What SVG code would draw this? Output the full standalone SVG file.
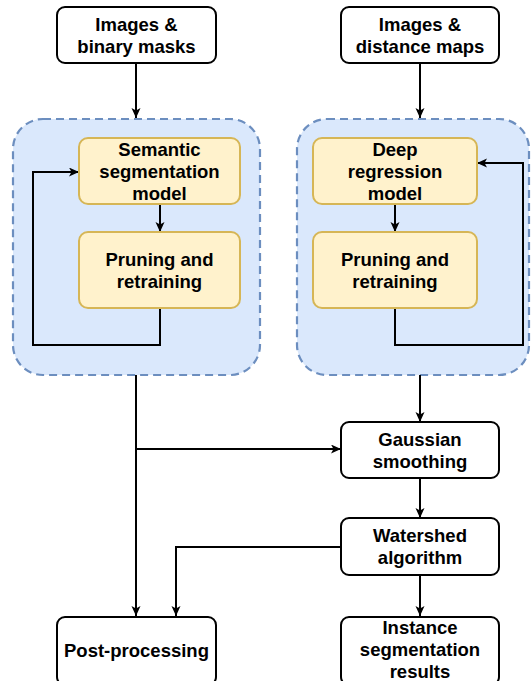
<svg xmlns="http://www.w3.org/2000/svg" width="531" height="681" viewBox="0 0 531 681">
  <defs>
    <marker id="arrow" markerUnits="userSpaceOnUse" markerWidth="12" markerHeight="10" refX="10" refY="4.5" orient="auto">
      <path d="M0,0 L10,4.5 L0,9 L2.5,4.5 Z" fill="#000"/>
    </marker>
  </defs>
  <style>
    .box { fill: #ffffff; stroke: #000; stroke-width: 2; }
    .group { fill: #dae8fc; stroke: #6c8ebf; stroke-width: 2.2; stroke-dasharray: 8 5; }
    .stage { fill: #fff2cc; stroke: #d6b656; stroke-width: 2; }
    .edge { fill: none; stroke: #000; stroke-width: 2; }
    text { font-family: "Liberation Sans", Arial, sans-serif; font-weight: bold; font-size: 18.5px; fill: #000; text-anchor: middle; }
  </style>

  <!-- dashed groups -->
  <g id="group-semantic">
    <rect class="group" x="13" y="119" width="247" height="256" rx="30"/>
  </g>
  <g id="group-regression">
    <rect class="group" x="297" y="119" width="232" height="256" rx="30"/>
  </g>

  <!-- connectors -->
  <g id="connectors">
    <path class="edge" d="M136,63 V118" marker-end="url(#arrow)"/>
    <path class="edge" d="M160,204 V232" marker-end="url(#arrow)"/>
    <path class="edge" d="M160,308 V345 H33 V172 H79" marker-end="url(#arrow)"/>
    <path class="edge" d="M420,63 V118" marker-end="url(#arrow)"/>
    <path class="edge" d="M395,204 V232" marker-end="url(#arrow)"/>
    <path class="edge" d="M395,308 V345 H523 V163 H477" marker-end="url(#arrow)"/>
    <path class="edge" d="M136,375 V616" marker-end="url(#arrow)"/>
    <path class="edge" d="M136,449 H341" marker-end="url(#arrow)"/>
    <path class="edge" d="M420,375 V422" marker-end="url(#arrow)"/>
    <path class="edge" d="M420,478 V518" marker-end="url(#arrow)"/>
    <path class="edge" d="M341,547 H176 V616" marker-end="url(#arrow)"/>
    <path class="edge" d="M420,575 V616" marker-end="url(#arrow)"/>
  </g>

  <g id="images-binary">
    <rect class="box" x="57" y="7" width="159" height="56" rx="8"/>
    <text x="136.5" y="30.5">Images &amp;</text>
    <text x="136.5" y="52.5">binary masks</text>
  </g>
  <g id="images-distance">
    <rect class="box" x="341" y="7" width="158" height="56" rx="8"/>
    <text x="420" y="30.5">Images &amp;</text>
    <text x="420" y="52.5">distance maps</text>
  </g>

  <g id="semantic-model">
    <rect class="stage" x="79" y="138" width="161" height="66" rx="9"/>
    <text x="159.5" y="155.5">Semantic</text>
    <text x="159.5" y="177.5">segmentation</text>
    <text x="159.5" y="199.5">model</text>
  </g>
  <g id="pruning-left">
    <rect class="stage" x="79" y="232" width="161" height="76" rx="9"/>
    <text x="159.5" y="266">Pruning and</text>
    <text x="159.5" y="288">retraining</text>
  </g>

  <g id="regression-model">
    <rect class="stage" x="313" y="138" width="164" height="66" rx="9"/>
    <text x="395" y="155.5">Deep</text>
    <text x="395" y="177.5">regression</text>
    <text x="395" y="199.5">model</text>
  </g>
  <g id="pruning-right">
    <rect class="stage" x="313" y="232" width="164" height="76" rx="9"/>
    <text x="395" y="266">Pruning and</text>
    <text x="395" y="288">retraining</text>
  </g>

  <g id="gaussian">
    <rect class="box" x="341" y="422" width="158" height="56" rx="8"/>
    <text x="420" y="445.5">Gaussian</text>
    <text x="420" y="467.5">smoothing</text>
  </g>
  <g id="watershed">
    <rect class="box" x="341" y="518" width="158" height="57" rx="8"/>
    <text x="420" y="542">Watershed</text>
    <text x="420" y="564">algorithm</text>
  </g>

  <g id="post-processing">
    <rect class="box" x="57" y="617" width="159" height="68" rx="8"/>
    <text x="136.5" y="657">Post-processing</text>
  </g>
  <g id="instance-results">
    <rect class="box" x="341" y="617" width="158" height="68" rx="8"/>
    <text x="420" y="634">Instance</text>
    <text x="420" y="656">segmentation</text>
    <text x="420" y="678">results</text>
  </g>
</svg>
